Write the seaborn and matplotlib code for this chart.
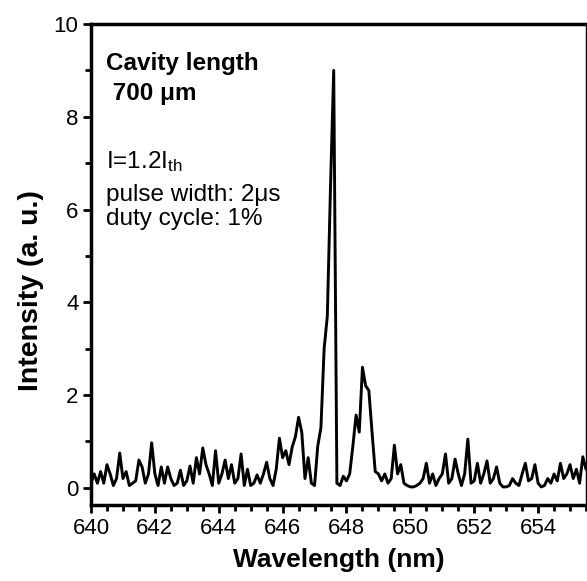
import numpy as np
import pandas as pd
import matplotlib
matplotlib.use("Agg")
import matplotlib.pyplot as plt
from matplotlib.ticker import MultipleLocator
import seaborn as sns

# spectrum sampled every 0.1 nm, 640.0 .. 655.5
wl_start = 640.0
wl_step = 0.1
intensity = [
    # 640.0 - 640.9
    0.10, 0.30, 0.10, 0.35, 0.10, 0.50, 0.30, 0.05, 0.20, 0.75,
    # 641
    0.20, 0.35, 0.05, 0.10, 0.15, 0.60, 0.45, 0.10, 0.30, 0.97,
    # 642
    0.30, 0.05, 0.45, 0.10, 0.45, 0.20, 0.05, 0.10, 0.38, 0.05,
    # 643
    0.15, 0.47, 0.10, 0.65, 0.30, 0.86, 0.50, 0.30, 0.05, 0.80,
    # 644
    0.10, 0.30, 0.60, 0.20, 0.50, 0.10, 0.20, 0.73, 0.05, 0.40,
    # 645
    0.05, 0.10, 0.28, 0.10, 0.30, 0.55, 0.20, 0.05, 0.40, 1.07,
    # 646
    0.65, 0.80, 0.50, 0.88, 1.10, 1.52, 1.20, 0.20, 0.65, 0.10,
    # 647
    0.05, 0.90, 1.30, 3.00, 3.70, 6.50, 9.00, 0.10, 0.05, 0.25,
    # 648
    0.15, 0.30, 0.90, 1.57, 1.20, 2.60, 2.20, 2.10, 1.20, 0.35,
    # 649
    0.30, 0.15, 0.30, 0.10, 0.20, 0.92, 0.30, 0.50, 0.10, 0.05,
    # 650
    0.02, 0.02, 0.05, 0.10, 0.20, 0.53, 0.10, 0.30, 0.05, 0.20,
    # 651
    0.30, 0.73, 0.10, 0.20, 0.62, 0.30, 0.05, 0.30, 1.05, 0.10,
    # 652
    0.15, 0.53, 0.10, 0.30, 0.58, 0.10, 0.20, 0.45, 0.10, 0.02,
    # 653
    0.02, 0.05, 0.20, 0.10, 0.05, 0.30, 0.53, 0.15, 0.20, 0.50,
    # 654
    0.10, 0.02, 0.05, 0.20, 0.10, 0.30, 0.15, 0.53, 0.20, 0.30,
    # 655.0 - 655.5
    0.50, 0.20, 0.40, 0.10, 0.67, 0.40,
]
wavelength = np.round(wl_start + wl_step * np.arange(len(intensity)), 2)

x_ticks = [640, 642, 644, 646, 648, 650, 652, 654]
y_ticks = [0, 2, 4, 6, 8, 10]

df = pd.DataFrame({"Wavelength": wavelength, "Intensity": intensity})

sns.set_style("ticks")
plt.rcParams["font.family"] = ["Liberation Sans", "DejaVu Sans"]
plt.rcParams["mathtext.fontset"] = "custom"
plt.rcParams["mathtext.rm"] = "Liberation Sans"
plt.rcParams["mathtext.it"] = "Liberation Sans"
plt.rcParams["text.color"] = "black"
plt.rcParams["axes.labelcolor"] = "black"

fig = plt.figure(figsize=(5.87, 5.81), dpi=100)
ax = fig.add_axes([91 / 587, 1 - 505 / 581, (586 - 91) / 587, (505 - 24) / 581])

sns.lineplot(data=df, x="Wavelength", y="Intensity", ax=ax, color="black", linewidth=2.1)

ax.set_xlim(640, 655.5)
ax.set_ylim(-0.37, 10)
ax.set_xticks(x_ticks)
ax.set_yticks(y_ticks)
ax.xaxis.set_minor_locator(MultipleLocator(0.5))
ax.yaxis.set_minor_locator(MultipleLocator(1))
ax.tick_params(which="major", direction="out", length=6, width=2, labelsize=16, colors="black")
ax.tick_params(which="minor", direction="out", length=4, width=2, colors="black")
ax.tick_params(axis="x", pad=3)
ax.tick_params(axis="y", pad=3)

for side in ["left", "bottom", "top"]:
    ax.spines[side].set_linewidth(2.5)
ax.spines["right"].set_linewidth(1)
for s in ax.spines.values():
    s.set_color("black")

ax.set_xlabel("Wavelength (nm)", fontsize=19, fontweight="bold", labelpad=7)
ax.set_ylabel("Intensity (a. u.)", fontsize=20.5, fontweight="bold")
ax.yaxis.set_label_coords(-0.095, 0.445)

ax.text(640.47, 9.4, "Cavity length", fontsize=17.5, fontweight="bold", va="top")
ax.text(640.47, 8.75, " 700 \u03bcm", fontsize=17.5, fontweight="bold", va="top")
ax.text(640.47, 7.3, r"I=1.2I$_{\mathrm{th}}$", fontsize=17.5, va="top")
ax.text(640.47, 6.55, "pulse width: 2\u03bcs", fontsize=17.5, va="top")
ax.text(640.47, 6.03, "duty cycle: 1%", fontsize=17.5, va="top")

fig.savefig("out.png", dpi=100)
